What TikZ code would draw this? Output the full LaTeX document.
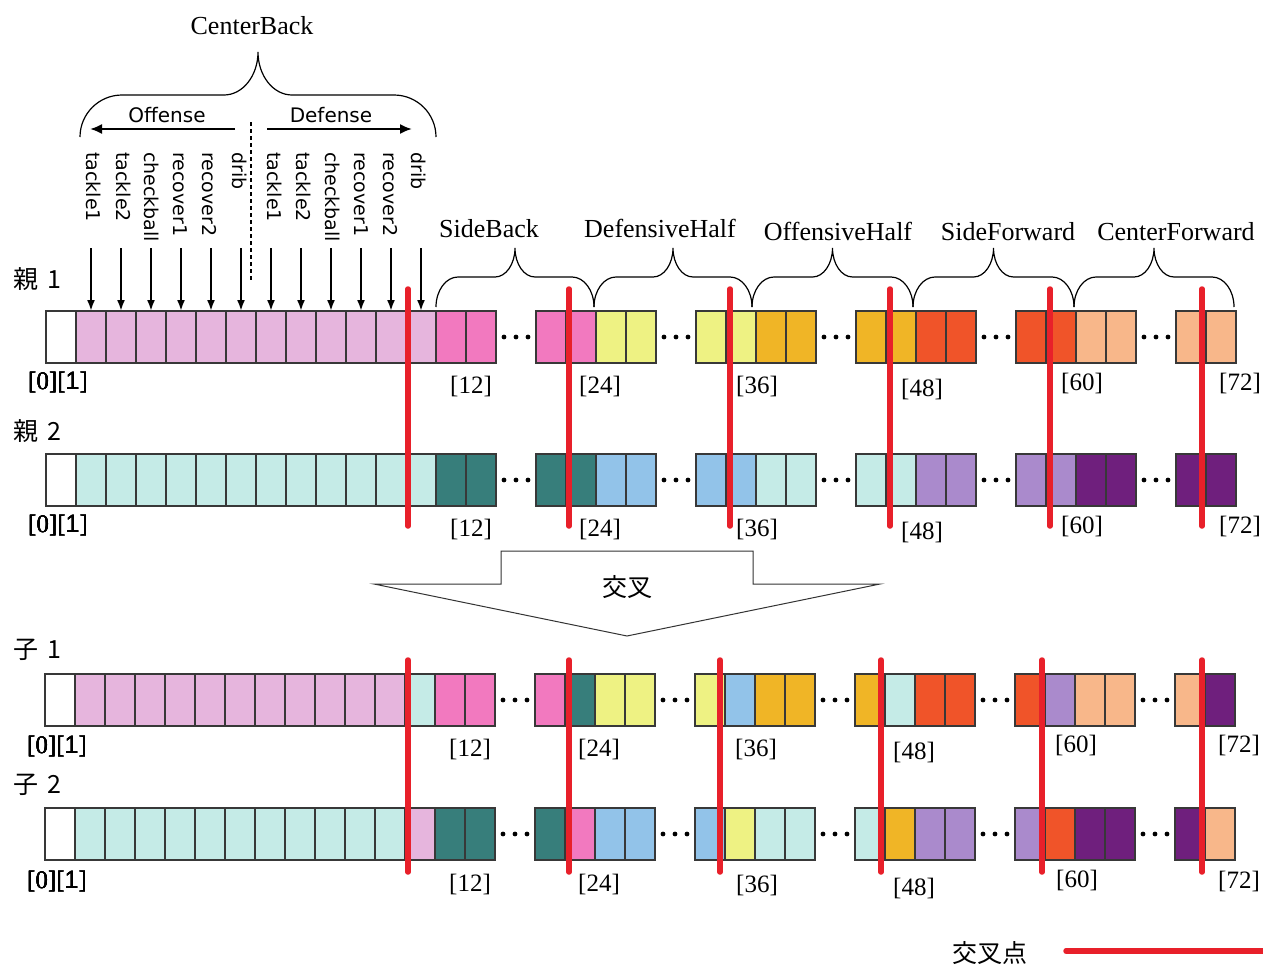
\documentclass[tikz,border=0pt]{standalone}
\usepackage{fontspec}
\setmainfont{Liberation Serif}
\newfontfamily\gsans{DejaVu Sans}
\newfontfamily\lsans{Liberation Sans}
\newfontfamily\gserif{Liberation Serif}
\newfontfamily\jpfont{Noto Sans CJK JP}
\usetikzlibrary{arrows.meta}

% gene colours: parent 1 positions
\definecolor{pacb}{HTML}{E6B5DD}
\definecolor{pasb}{HTML}{F279BF}
\definecolor{padh}{HTML}{EEF283}
\definecolor{paoh}{HTML}{F0B526}
\definecolor{pasf}{HTML}{F05429}
\definecolor{pacf}{HTML}{F8B78A}
% gene colours: parent 2 positions
\definecolor{pbcb}{HTML}{C5EBE7}
\definecolor{pbsb}{HTML}{377E7B}
\definecolor{pbdh}{HTML}{92C3E9}
\definecolor{pboh}{HTML}{C5EBE7}
\definecolor{pbsf}{HTML}{AA8ACC}
\definecolor{pbcf}{HTML}{6F1F7D}
\definecolor{cellline}{HTML}{383838}
\definecolor{xred}{HTML}{E8202A}

\tikzset{
  gene/.style={draw=cellline, line width=1.1pt, minimum width=30pt, minimum height=52pt,
    inner sep=0pt, outer sep=0pt, anchor=north west},
  xover/.style={draw=xred, line width=5.5pt, line cap=round},
  genarrow/.style={line width=2pt, -{Latex[length=11pt,width=8pt]}},
  sidearrow/.style={line width=2pt, -{Latex[length=12pt,width=10pt]}},
  bracestyle/.style={draw=black, line width=1.2pt},
  grp/.style={font=\gserif\fontsize{26}{30}\selectfont, inner sep=0pt, anchor=base},
  idx/.style={font=\gserif\fontsize{25}{28}\selectfont, inner sep=0pt},
  jp/.style={font=\jpfont\fontsize{25}{28}\selectfont, inner sep=0pt},
  param/.style={font=\gsans\fontsize{19}{22}\selectfont, inner sep=0pt, rotate=-90, anchor=mid west},
  dirlab/.style={font=\gsans\fontsize{20}{24}\selectfont, inner sep=0pt},
}

% one block of genes: name prefix, left x, top y, list of fills
\newcommand\geneblock[4]{%
  \foreach \c [count=\i from 0] in {#4}{
    \node[gene, fill=\c] (#1-\i) at ({#2+30*\i},#3) {};
  }}
% three dots for the omitted genes
\newcommand\skipdots[2]{%
  \foreach \d in {-12,0,12} \fill ({#1+\d},#2) circle (2.4pt);}
% first two indices, the second one set in the sans face
\newcommand\firstidx{\gserif[0][\lsans 1\gserif]}
% curly brace: x1, x2, y ends, y bar, y tip, end radius, tip radius
\newcommand\curly[7]{%
  \pgfmathsetmacro\xc{(#1+#2)/2}
  \draw[bracestyle] (#1,#3) .. controls (#1,{#3-0.552*(#3-#4)}) and ({#1+0.448*#6},#4) .. ({#1+#6},#4)
    -- ({\xc-#7},#4) .. controls ({\xc-0.448*#7},#4) and (\xc,{#5+0.552*(#4-#5)}) .. (\xc,#5)
    .. controls (\xc,{#5+0.552*(#4-#5)}) and ({\xc+0.448*#7},#4) .. ({\xc+#7},#4)
    -- ({#2-#6},#4) .. controls ({#2-0.448*#6},#4) and (#2,{#3-0.552*(#3-#4)}) .. (#2,#3);}

\begin{document}
\begin{tikzpicture}[x=1pt,y=-1pt]
\fill[white] (0,0) rectangle (1263,966);
\useasboundingbox (0,0) rectangle (1263,966);

% ---------- parent 1 ----------
\node[jp, anchor=west] (p1name) at (13,279) {親\hspace{9pt}1};
\geneblock{r1a}{46}{311}{white,pacb,pacb,pacb,pacb,pacb,pacb,pacb,pacb,pacb,pacb,pacb,pacb,pasb,pasb}
\geneblock{r1b}{536}{311}{pasb,pasb,padh,padh}
\geneblock{r1c}{696}{311}{padh,padh,paoh,paoh}
\geneblock{r1d}{856}{311}{paoh,paoh,pasf,pasf}
\geneblock{r1e}{1016}{311}{pasf,pasf,pacf,pacf}
\geneblock{r1f}{1176}{311}{pacf,pacf}
\foreach \g in {516,676,836,996,1156} \skipdots{\g}{337}
\node[idx, anchor=west] (r1i0) at (28,382) {\firstidx};
\node[idx] (r1i12) at (471,386) {[12]};
\node[idx] (r1i24) at (600,386) {[24]};
\node[idx] (r1i36) at (757,386) {[36]};
\node[idx] (r1i48) at (922,389) {[48]};
\node[idx] (r1i60) at (1082,383) {[60]};
\node[idx] (r1i72) at (1240,383) {[72]};

% ---------- parent 2 ----------
\node[jp, anchor=west] (p2name) at (13,431) {親\hspace{9pt}2};
\geneblock{r2a}{46}{454}{white,pbcb,pbcb,pbcb,pbcb,pbcb,pbcb,pbcb,pbcb,pbcb,pbcb,pbcb,pbcb,pbsb,pbsb}
\geneblock{r2b}{536}{454}{pbsb,pbsb,pbdh,pbdh}
\geneblock{r2c}{696}{454}{pbdh,pbdh,pboh,pboh}
\geneblock{r2d}{856}{454}{pboh,pboh,pbsf,pbsf}
\geneblock{r2e}{1016}{454}{pbsf,pbsf,pbcf,pbcf}
\geneblock{r2f}{1176}{454}{pbcf,pbcf}
\foreach \g in {516,676,836,996,1156} \skipdots{\g}{480}
\node[idx, anchor=west] (r2i0) at (28,525) {\firstidx};
\node[idx] (r2i12) at (471,529) {[12]};
\node[idx] (r2i24) at (600,529) {[24]};
\node[idx] (r2i36) at (757,529) {[36]};
\node[idx] (r2i48) at (922,532) {[48]};
\node[idx] (r2i60) at (1082,526) {[60]};
\node[idx] (r2i72) at (1240,526) {[72]};

% ---------- child 1 ----------
\node[jp, anchor=west] (c1name) at (13,650) {子\hspace{9pt}1};
\geneblock{r3a}{45}{674}{white,pacb,pacb,pacb,pacb,pacb,pacb,pacb,pacb,pacb,pacb,pacb,pbcb,pasb,pasb}
\geneblock{r3b}{535}{674}{pasb,pbsb,padh,padh}
\geneblock{r3c}{695}{674}{padh,pbdh,paoh,paoh}
\geneblock{r3d}{855}{674}{paoh,pboh,pasf,pasf}
\geneblock{r3e}{1015}{674}{pasf,pbsf,pacf,pacf}
\geneblock{r3f}{1175}{674}{pacf,pbcf}
\foreach \g in {515,675,835,995,1155} \skipdots{\g}{700}
\node[idx, anchor=west] (r3i0) at (27,746) {\firstidx};
\node[idx] (r3i12) at (470,749) {[12]};
\node[idx] (r3i24) at (599,749) {[24]};
\node[idx] (r3i36) at (756,749) {[36]};
\node[idx] (r3i48) at (914,752) {[48]};
\node[idx] (r3i60) at (1076,745) {[60]};
\node[idx] (r3i72) at (1239,745) {[72]};

% ---------- child 2 ----------
\node[jp, anchor=west] (c2name) at (13,785) {子\hspace{9pt}2};
\geneblock{r4a}{45}{808}{white,pbcb,pbcb,pbcb,pbcb,pbcb,pbcb,pbcb,pbcb,pbcb,pbcb,pbcb,pacb,pbsb,pbsb}
\geneblock{r4b}{535}{808}{pbsb,pasb,pbdh,pbdh}
\geneblock{r4c}{695}{808}{pbdh,padh,pboh,pboh}
\geneblock{r4d}{855}{808}{pboh,paoh,pbsf,pbsf}
\geneblock{r4e}{1015}{808}{pbsf,pasf,pbcf,pbcf}
\geneblock{r4f}{1175}{808}{pbcf,pacf}
\foreach \g in {515,675,835,995,1155} \skipdots{\g}{834}
\node[idx, anchor=west] (r4i0) at (27,881) {\firstidx};
\node[idx] (r4i12) at (470,884) {[12]};
\node[idx] (r4i24) at (599,884) {[24]};
\node[idx] (r4i36) at (757,885) {[36]};
\node[idx] (r4i48) at (914,888) {[48]};
\node[idx] (r4i60) at (1077,880) {[60]};
\node[idx] (r4i72) at (1239,881) {[72]};

% ---------- crossover points ----------
\foreach \x in {408,569,730,890,1050,1202} \draw[xover] (\x,289) -- (\x,526);
\foreach \x in {408,569,720,881,1042,1202} \draw[xover] (\x,660) -- (\x,872);

% ---------- CenterBack parameters ----------
\coordinate (armtop) at (0,248);
\foreach \k in {1,...,12} \draw[genarrow] (r1a-\k.north |- armtop) -- (r1a-\k.north);
\foreach \lab/\x [count=\k] in {tackle1/89,tackle2/119,checkball/147,recover1/176,recover2/205,drib/235,
    tackle1/270,tackle2/299,checkball/328,recover1/357,recover2/386,drib/414}
  \node[param] (par\k) at (\x,152) {\lab};
\draw[line width=1.3pt, dashed, dash pattern=on 4pt off 3pt] (251,122) -- (251,282);
\node[dirlab] (offlab) at (167,115) {Offense};
\node[dirlab] (deflab) at (331,115) {Defense};
\coordinate (offfrom) at (235,129);
\coordinate (offto) at (90,129);
\coordinate (deffrom) at (267,129);
\coordinate (defto) at (412,129);
\draw[sidearrow] (offfrom) -- (offto);
\draw[sidearrow] (deffrom) -- (defto);

% ---------- position groups ----------
\curly{80}{436}{137}{95}{52}{42}{34}
\node[grp] (cblab) at (252,35) {CenterBack};
\curly{436}{594}{307}{277}{248}{22}{20}
\curly{594}{752}{307}{277}{248}{22}{20}
\curly{752}{913}{307}{277}{248}{22}{20}
\curly{913}{1074}{307}{277}{248}{22}{20}
\curly{1074}{1234}{307}{277}{248}{22}{20}
\node[grp] (sblab) at (489,237) {SideBack};
\node[grp] (dhlab) at (660,237) {DefensiveHalf};
\node[grp] (ohlab) at (838,240) {OffensiveHalf};
\node[grp] (sflab) at (1008,240) {SideForward};
\node[grp] (cflab) at (1176,240) {CenterForward};

% ---------- crossover arrow ----------
\draw[line width=1pt, draw=black!80, fill=white]
  (501,551) -- (753,551) -- (753,584) -- (880,584) -- (627,636) -- (374,584) -- (501,584) -- cycle;
\node[jp] (xlab) at (627,587) {交叉};

% ---------- legend ----------
\node[jp] (legtxt) at (990,953) {交叉点};
\coordinate (legfrom) at (1066,951);
\coordinate (legto) at (1268,951);
\draw[xover] (legfrom) -- (legto);
\end{tikzpicture}
\end{document}
